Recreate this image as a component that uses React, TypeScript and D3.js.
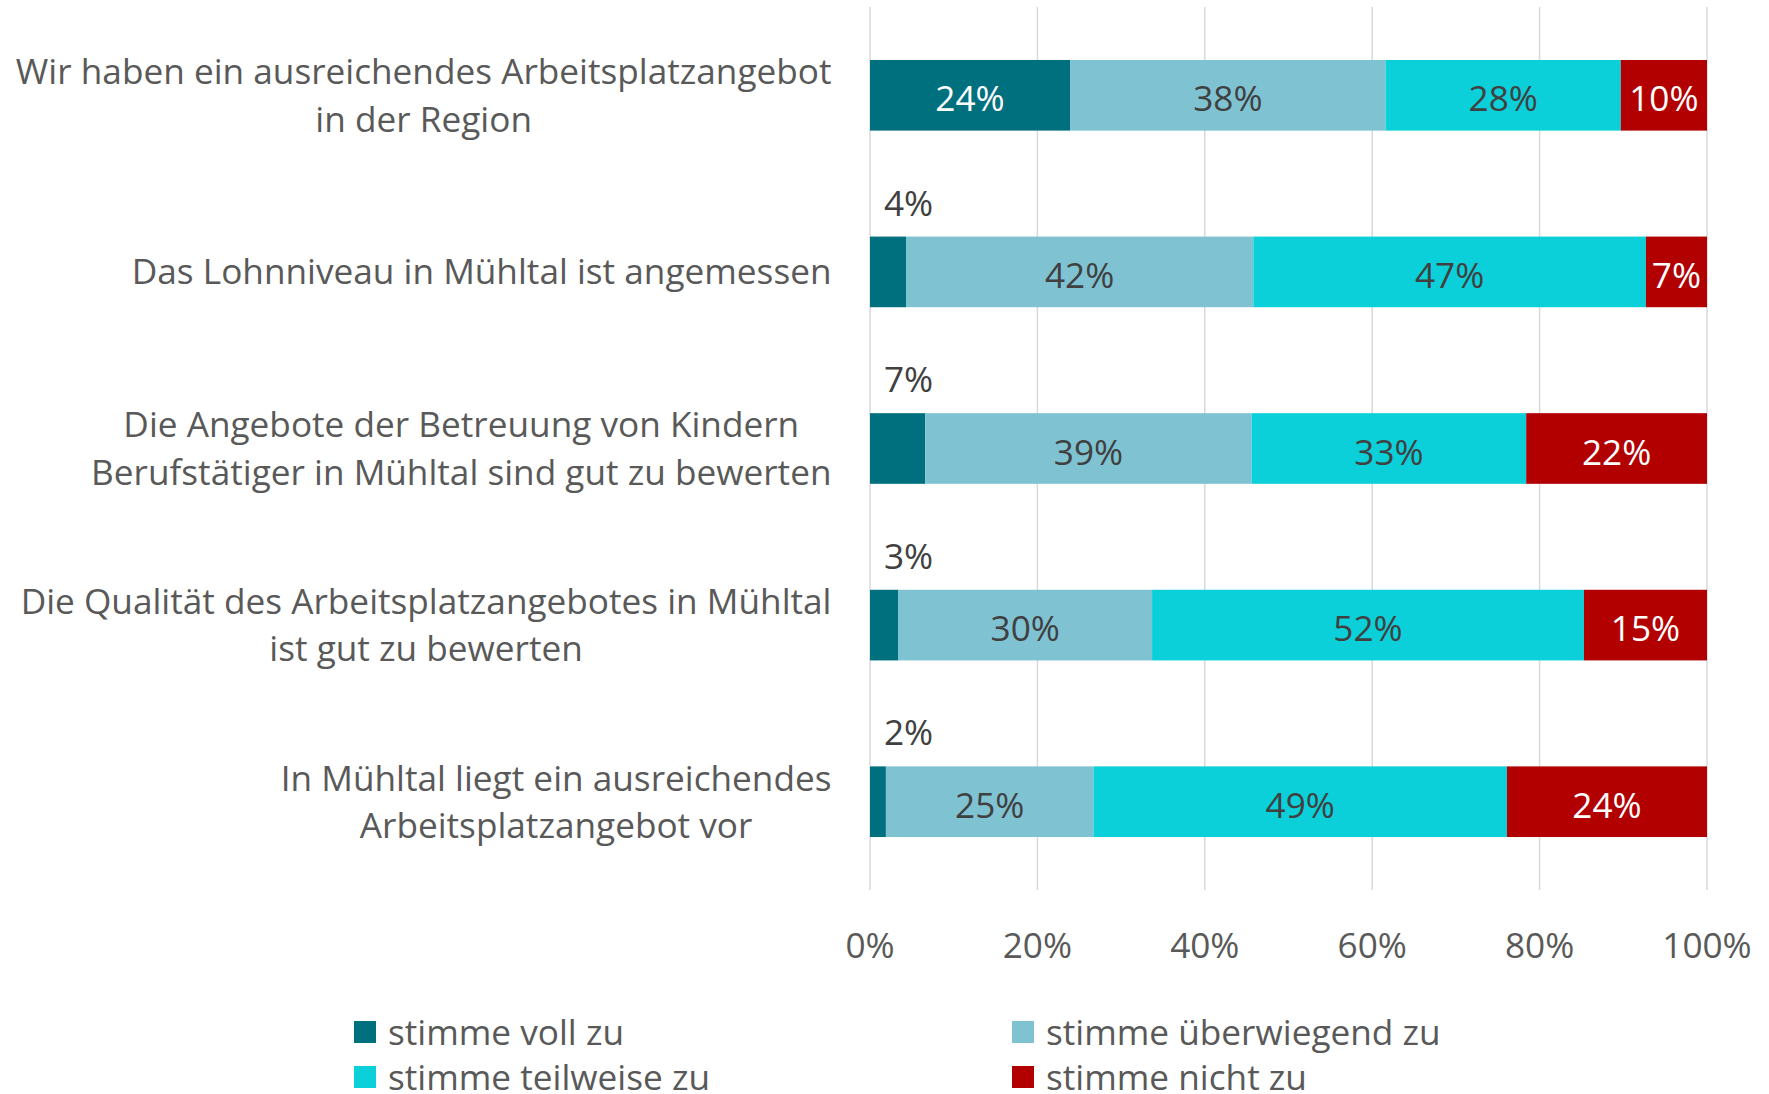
import React, { useEffect, useRef } from "react";
import * as d3 from "d3";

const categories: string[][] = [
  ["Wir haben ein ausreichendes Arbeitsplatzangebot", "in der Region"],
  ["Das Lohnniveau in Mühltal ist angemessen"],
  ["Die Angebote der Betreuung von Kindern", "Berufstätiger in Mühltal sind gut zu bewerten"],
  ["Die Qualität des Arbeitsplatzangebotes in Mühltal", "ist gut zu bewerten"],
  ["In Mühltal liegt ein ausreichendes", "Arbeitsplatzangebot vor"],
];

const seriesNames = ["stimme voll zu", "stimme überwiegend zu", "stimme teilweise zu", "stimme nicht zu"];
const vollZu = [23.9, 4.3, 6.6, 3.4, 1.9];
const ueberwiegendZu = [37.7, 41.5, 39.0, 30.3, 24.8];
const teilweiseZu = [28.1, 46.9, 32.8, 51.6, 49.4];
const nichtZu = [10.3, 7.3, 21.6, 14.7, 23.9];
const seriesValues = [vollZu, ueberwiegendZu, teilweiseZu, nichtZu];
const xTicks = [0, 20, 40, 60, 80, 100];

const colors = ["#00707F", "#7FC3D3", "#0CD0D9", "#B20000"];
const labelColors = ["#FFFFFF", "#404040", "#404040", "#FFFFFF"];
const FONT = "'Open Sans', sans-serif";
const FS = 35.2;

export default function App() {
  const ref = useRef<SVGSVGElement | null>(null);

  useEffect(() => {
    const svg = d3.select(ref.current);
    svg.selectAll("*").remove();

    const x = d3.scaleLinear().domain([0, 100]).range([870, 1707]);
    const y = d3
      .scaleBand<number>()
      .domain(d3.range(categories.length))
      .range([7, 890])
      .paddingInner(0.6)
      .paddingOuter(0.3);

    // gridlines
    svg
      .append("g")
      .selectAll("line")
      .data(xTicks)
      .join("line")
      .attr("x1", (d) => x(d))
      .attr("x2", (d) => x(d))
      .attr("y1", 7)
      .attr("y2", 890)
      .attr("stroke", "#D9D9D9")
      .attr("stroke-width", 1.5);

    // stacked data
    const rows = categories.map((_, i) => {
      const vals = seriesValues.map((s) => s[i]);
      let acc = 0;
      return vals.map((v, k) => {
        const seg = { row: i, k, v, x0: acc, x1: acc + v };
        acc += v;
        return seg;
      });
    });
    const segs = rows.flat();

    svg
      .append("g")
      .selectAll("rect")
      .data(segs)
      .join("rect")
      .attr("x", (d) => x(d.x0))
      .attr("width", (d) => x(d.x1) - x(d.x0))
      .attr("y", (d) => y(d.row)!)
      .attr("height", y.bandwidth())
      .attr("fill", (d) => colors[d.k]);

    const fmt = d3.format(".0f");
    const lab = svg.append("g").attr("font-family", FONT).attr("font-size", FS);
    segs.forEach((d) => {
      const outside = d.k === 0 && d.v < 10;
      const t = lab.append("text").text(fmt(d.v) + "%");
      if (outside) {
        t.attr("x", x(0) + 14)
          .attr("y", y(d.row)! - 21)
          .attr("fill", "#404040");
      } else {
        t.attr("x", (x(d.x0) + x(d.x1)) / 2)
          .attr("y", y(d.row)! + y.bandwidth() / 2 + 16)
          .attr("text-anchor", "middle")
          .attr("fill", labelColors[d.k]);
      }
    });

    // category labels
    const catG = svg.append("g").attr("font-family", FONT).attr("font-size", FS).attr("fill", "#595959");
    categories.forEach((lines, i) => {
      const cy = y(i)! + y.bandwidth() / 2;
      const t = catG.append("text").attr("text-anchor", "middle");
      const n = lines.length;
      lines.forEach((ln, j) => {
        t.append("tspan")
          .attr("x", 0)
          .attr("y", cy + 12.5 + (j - (n - 1) / 2) * 47.4)
          .text(ln);
      });
      let maxW = 0;
      t.selectAll<SVGTSpanElement, unknown>("tspan").each(function () {
        maxW = Math.max(maxW, this.getComputedTextLength());
      });
      const cx = 831.5 - maxW / 2;
      t.selectAll("tspan").attr("x", cx);
    });

    // x tick labels
    svg
      .append("g")
      .attr("font-family", FONT)
      .attr("font-size", FS)
      .attr("fill", "#595959")
      .selectAll("text")
      .data(xTicks)
      .join("text")
      .attr("x", (d) => x(d))
      .attr("y", 958)
      .attr("text-anchor", "middle")
      .text((d) => d + "%");

    // legend
    const legPos = [
      [354, 1021],
      [1012, 1021],
      [354, 1066],
      [1012, 1066],
    ];
    const leg = svg.append("g").attr("font-family", FONT).attr("font-size", FS).attr("fill", "#595959");
    seriesNames.forEach((name, k) => {
      const [lx, ly] = legPos[k];
      leg.append("rect").attr("x", lx).attr("y", ly).attr("width", 22).attr("height", 22).attr("fill", colors[k]);
      leg.append("text").attr("x", lx + 34).attr("y", ly + 24).text(name);
    });
  }, []);

  return (
    <svg
      ref={ref}
      width={1769}
      height={1094}
      style={{ position: "absolute", left: 0, top: 0, background: "#FFFFFF" }}
    />
  );
}
